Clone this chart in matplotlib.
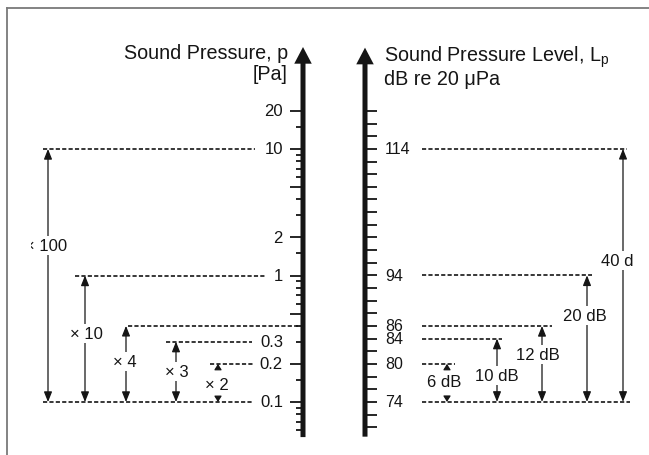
import matplotlib
matplotlib.use("Agg")
import matplotlib.pyplot as plt
from matplotlib.lines import Line2D
from matplotlib.transforms import Bbox, TransformedBbox

plt.rcParams['font.family'] = ['Liberation Sans', 'DejaVu Sans']
plt.rcParams['mathtext.fontset'] = 'custom'
plt.rcParams['mathtext.rm'] = 'Liberation Sans'
plt.rcParams['lines.scale_dashes'] = False

P_REF = 20e-6  # 20 uPa

# ---- data ----
# left scale: sound pressure in Pa
p_levels = [10, 1, 0.4, 0.3, 0.2, 0.1]
p_ticks_long = [20, 10, 5, 2, 1, 0.5, 0.2, 0.1]
p_ticks_short = [15, 9, 8, 7, 6, 4, 3, 1.5, 0.9, 0.8, 0.7, 0.6, 0.4, 0.3,
                 0.15, 0.09, 0.08, 0.07, 0.06]
p_label_values = [20, 10, 2, 1, 0.3, 0.2, 0.1]
p_labels = ['20', '10', '2', '1', '0.3', '0.2', '0.1']
p_base = 0.1
ratios = [100, 10, 4, 3, 2]
ratio_labels = ['\u00d7 100', '\u00d7 10', '\u00d7 4', '\u00d7 3', '\u00d7 2']

# right scale: sound pressure level in dB re 20 uPa
db_levels = [114, 94, 86, 84, 80, 74]
db_ticks = [70, 72, 74, 76, 78, 80, 82, 84, 86, 88, 90, 92, 94, 96, 98,
            100, 102, 104, 106, 108, 110, 112, 114, 116, 118, 120]
db_labels = ['114', '94', '86', '84', '80', '74']
db_base = 74
db_diffs = [40, 20, 12, 10, 6]
db_diff_labels = ['40 dB', '20 dB', '12 dB', '10 dB', '6 dB']


def to_pa(db):
    return P_REF * 10 ** (db / 20.0)


# ---- layout (x in pixels of the 649 px wide canvas) ----
W, H = 649, 456
INK = '#151515'
X_LEFT = 303
X_RIGHT = 365
p_axis_span = (0.0528, 64)        # Pa
db_axis_span = (68.5, 130)        # dB
p_line_x = [(43, 255), (75, 265), (128, 298), (166, 252), (210, 253), (43, 253)]
db_line_x = [(422, 627), (422, 592), (422, 552), (422, 502), (422, 455), (422, 630)]
ratio_x = [48, 85, 126, 176, 218]
ratio_lab_x = [46, 86, 125, 177, 217]
ratio_lab_t = [0.617, 0.54, 0.53, 0.5, 0.47]
ratio_stub = [None, None, None, None, 3.5]
ratio_clip = [(31, W), None, None, None, None]
db_x = [623, 587, 542, 497, 447]
db_lab_x = [623, 585, 538, 497, 444]
db_lab_t = [0.557, 0.685, 0.63, 0.41, 0.53]
db_stub = [None, None, None, None, 3.5]
db_clip = [(0, 634), None, None, None, None]

fig = plt.figure(figsize=(W / 100, H / 100), dpi=100)
ax = fig.add_axes([0, 0, 1, 1])
ax.set_yscale('log')
ax.set_xlim(0, W)
ax.set_ylim(0.1 * 10 ** (-(H - 403) / 126.5), 0.1 * 10 ** (403 / 126.5))
ax.axis('off')


def fx(x):
    return x / W


def fy(y):
    return 1 - y / H


# frame
fig.add_artist(Line2D([fx(7), fx(7)], [fy(9), 0], color='#7a7a7a', lw=1.3))
fig.add_artist(Line2D([fx(7), 1], [fy(9), fy(9)], color='#7a7a7a', lw=1.3))

thick = dict(arrowstyle='simple,head_length=1.0,head_width=1.05,tail_width=0.3',
             mutation_scale=12, fc=INK, ec='none', lw=0, shrinkA=0, shrinkB=0)
thin = dict(arrowstyle='-|>,head_length=0.55,head_width=0.22', mutation_scale=11,
            lw=0.9, color=INK, shrinkA=0, shrinkB=0)
small = dict(arrowstyle='-|>,head_length=0.35,head_width=0.22', mutation_scale=10,
             lw=0.8, color=INK, shrinkA=0, shrinkB=0)
dash = (0, (3.0, 1.6))

# the two vertical scales
ax.annotate('', xy=(X_LEFT, p_axis_span[1]), xytext=(X_LEFT, p_axis_span[0]),
            arrowprops=thick)
ax.annotate('', xy=(X_RIGHT, to_pa(db_axis_span[1])),
            xytext=(X_RIGHT, to_pa(db_axis_span[0])), arrowprops=thick)

ax.hlines(p_ticks_long, X_LEFT - 13, X_LEFT, color=INK, lw=1.3)
ax.hlines(p_ticks_short, X_LEFT - 7, X_LEFT, color=INK, lw=1.3)
ax.hlines([to_pa(d) for d in db_ticks], X_RIGHT, X_RIGHT + 12, color=INK, lw=1.3)

for v, s in zip(p_label_values, p_labels):
    ax.text(283, v, s, ha='right', va='center', fontsize=12, color=INK)
for v, s in zip(db_levels, db_labels):
    ax.text(385, to_pa(v), s, ha='left', va='center', fontsize=11.5, color=INK)

# titles
fig.text(fx(288), fy(59), 'Sound Pressure, p', ha='right', va='baseline',
         fontsize=14.2, color=INK)
fig.text(fx(288), fy(80), '[Pa]', ha='right', va='baseline', fontsize=14.2, color=INK)
fig.text(fx(384), fy(62), r'Sound Pressure Level, L$_\mathregular{p}$', ha='left',
         va='baseline', fontsize=14.2, color=INK)
fig.text(fx(384), fy(85), 'dB re 20 \u03bcPa', ha='left', va='baseline',
         fontsize=14.2, color=INK)

# dashed level lines
for v, (x0, x1) in zip(p_levels, p_line_x):
    ax.hlines(v, x0, x1, color=INK, lw=1.2, linestyles=dash)
for v, (x0, x1) in zip(db_levels, db_line_x):
    ax.hlines(to_pa(v), x0, x1, color=INK, lw=1.2, linestyles=dash)


def span_arrow(x, lo, hi, lab_x, t, text, stub, clip):
    ymid = lo * (hi / lo) ** t
    for end, sign in ((hi, -1), (lo, 1)):
        if stub is None:
            ax.annotate('', xy=(x, end), xytext=(x, ymid), arrowprops=thin)
        else:
            ax.annotate('', xy=(x, end), xytext=(0, sign * stub),
                        textcoords='offset points', arrowprops=small)
    txt = ax.text(lab_x, ymid, text, ha='center', va='center', fontsize=12,
                  color=INK, zorder=5,
                  bbox=dict(fc='white', ec='none', pad=1.5))
    if clip is not None:
        y0, y1 = ax.get_ylim()
        txt.set_clip_box(TransformedBbox(Bbox([[clip[0], y0], [clip[1], y1]]),
                                         ax.transData))
        txt.set_clip_on(True)


for r, lab, x, lx, t, st, cl in zip(ratios, ratio_labels, ratio_x, ratio_lab_x,
                                     ratio_lab_t, ratio_stub, ratio_clip):
    span_arrow(x, p_base, p_base * r, lx, t, lab, st, cl)

for d, lab, x, lx, t, st, cl in zip(db_diffs, db_diff_labels, db_x, db_lab_x,
                                     db_lab_t, db_stub, db_clip):
    span_arrow(x, to_pa(db_base), to_pa(db_base + d), lx, t, lab, st, cl)

plt.savefig('out.png', dpi=100)
